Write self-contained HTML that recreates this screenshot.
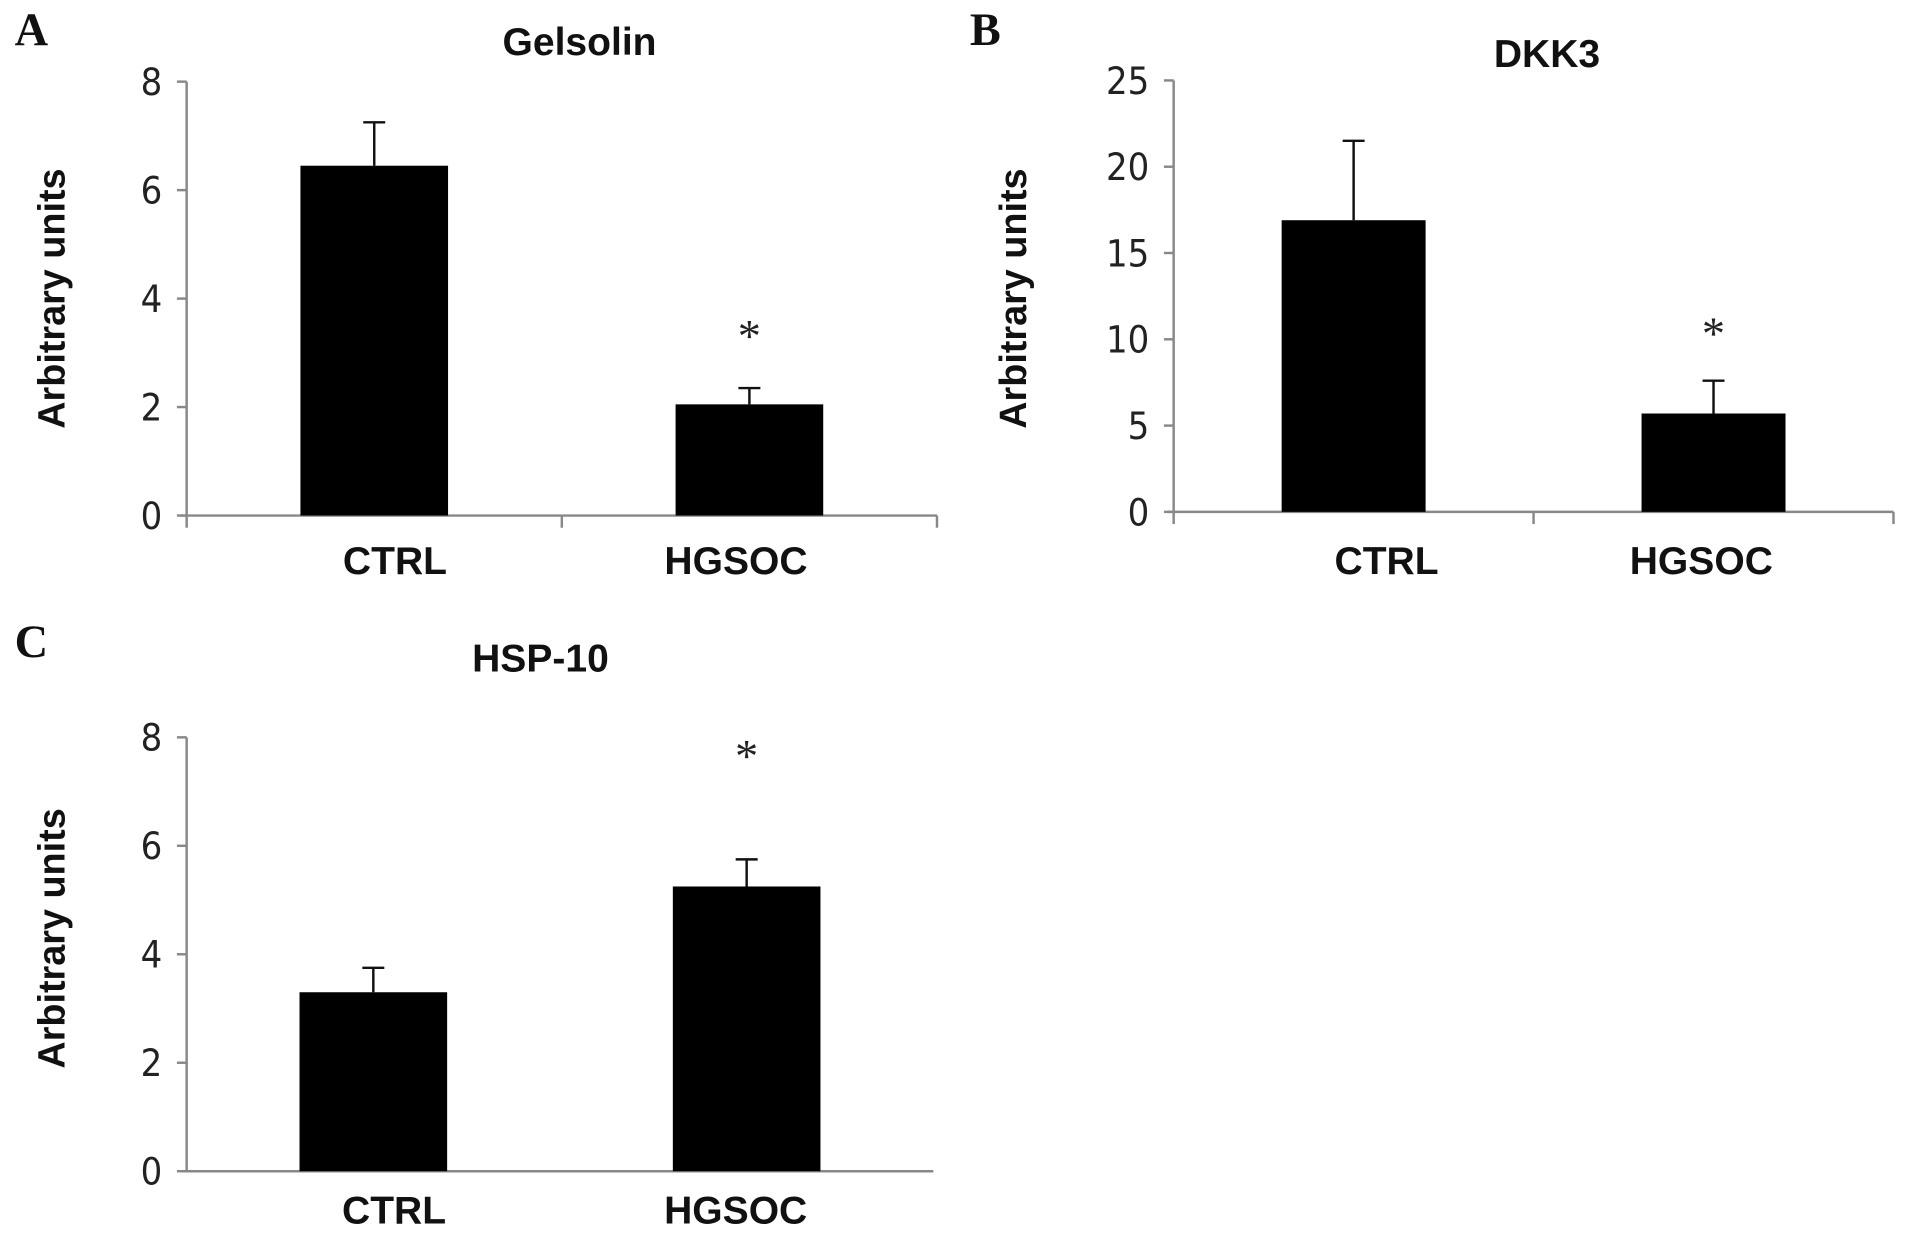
<!DOCTYPE html>
<html><head><meta charset="utf-8"><style>
html,body{margin:0;padding:0;background:#fff;}
svg{display:block;}
.tick{font-family:"DejaVu Sans Condensed","Liberation Sans",sans-serif;font-size:31px;fill:#222;}
.cat{font-family:"Liberation Sans",sans-serif;font-weight:bold;font-size:32px;fill:#111;}
.title{font-family:"Liberation Sans",sans-serif;font-weight:bold;font-size:32px;fill:#111;}
.panel{font-family:"Liberation Serif",serif;font-weight:bold;font-size:38px;fill:#111;}
.ylab{font-family:"Liberation Sans",sans-serif;font-weight:bold;font-size:31px;fill:#111;}
.star{font-family:"Liberation Serif",serif;font-size:38px;fill:#222;}
</style></head><body>
<svg id="fig" width="1913" height="1248" viewBox="0 0 1568 1024" preserveAspectRatio="none" xmlns="http://www.w3.org/2000/svg"></svg>
<script>
const categories = ["CTRL", "HGSOC"];
const gelsolinValues = [6.45, 2.05];
const gelsolinErrors = [0.8, 0.3];
const dkk3Values = [16.9, 5.7];
const dkk3Errors = [4.6, 1.9];
const hsp10Values = [3.3, 5.25];
const hsp10Errors = [0.45, 0.5];
const gelsolinTicks = [0, 2, 4, 6, 8];
const dkk3Ticks = [0, 5, 10, 15, 20, 25];
const hsp10Ticks = [0, 2, 4, 6, 8];
const gelsolinSig = [false, true];
const dkk3Sig = [false, true];
const hsp10Sig = [false, true];

const NS = "http://www.w3.org/2000/svg";
const svg = document.getElementById("fig");
function mk(tag, attrs, parent) {
  const e = document.createElementNS(NS, tag);
  for (const k in attrs) e.setAttribute(k, attrs[k]);
  (parent || svg).appendChild(e);
  return e;
}
function panel(cfg) {
  const g = mk("g", {});
  
  
  const max = cfg.ticks[cfg.ticks.length - 1];
  const y = v => cfg.y0 - (v / max) * (cfg.y0 - cfg.yTop);
  const L = mk("text", {x: cfg.letterX, y: cfg.letterY, class: "panel"}, g);
  L.textContent = cfg.letter;
  
  
  const T = mk("text", {x: cfg.titleX, y: cfg.titleY, class: "title", "text-anchor": "middle"}, g);
  T.textContent = cfg.title;
  
  
  const ya = mk("line", {x1: cfg.ax, y1: cfg.yTop, x2: cfg.ax, y2: cfg.y0, stroke: "#888", "stroke-width": 2}, g);
  
  
  cfg.ticks.forEach(t => {
    const tl = mk("line", {x1: cfg.ax - 8, y1: y(t), x2: cfg.ax, y2: y(t), stroke: "#888", "stroke-width": 2}, g);
    
    
    const tx = mk("text", {x: cfg.ax - 20, y: y(t) + 11, class: "tick", "text-anchor": "end"}, g);
    tx.textContent = t;
    
    
  });
  const yl = mk("text", {x: 0, y: 0, class: "ylab", "text-anchor": "middle", transform: `translate(${cfg.ylabX},${cfg.ylabY}) rotate(-90)`}, g);
  yl.textContent = "Arbitrary units";
  
  
  const xa = mk("line", {x1: cfg.ax - 5, y1: cfg.y0, x2: cfg.xEnd, y2: cfg.y0, stroke: "#888", "stroke-width": 2}, g);
  
  
  if (cfg.xTicks) {
    const n = categories.length;
    for (let i = 0; i <= n; i++) {
      const xx = cfg.ax + (cfg.xEnd - cfg.ax) * i / n;
      const xt = mk("line", {x1: xx, y1: cfg.y0, x2: xx, y2: cfg.y0 + 10, stroke: "#888", "stroke-width": 2}, g);
      
      
    }
  }
  const slot = (cfg.xEnd - cfg.ax) / categories.length;
  categories.forEach((c, i) => {
    const cx = cfg.ax + slot * (i + 0.5);
    const v = cfg.values[i], e = cfg.errors[i];
    const r = mk("rect", {x: cx - cfg.bw / 2, y: y(v), width: cfg.bw, height: cfg.y0 - y(v), fill: "#000"}, g);
    
    
    const el = mk("path", {d: `M${cx},${y(v)}V${y(v + e)}M${cx - 9},${y(v + e)}H${cx + 9}`, stroke: "#111", "stroke-width": 2, fill: "none"}, g);
    
    
    const lb = mk("text", {x: cx + cfg.labShift[i], y: cfg.catY, class: "cat", "text-anchor": "middle"}, g);
    lb.textContent = c;
    
    
    if (cfg.sig[i]) {
      const s = mk("text", {x: cx, y: y(v + e) + cfg.starOff, class: "star", "text-anchor": "middle"}, g);
      s.textContent = "*";
      
      
    }
  });
}
panel({id: "gelsolin", letter: "A", letterX: 12, letterY: 37, title: "Gelsolin", titleX: 475, titleY: 45,
  ax: 153, xEnd: 768, y0: 423, yTop: 67, ticks: gelsolinTicks, values: gelsolinValues, errors: gelsolinErrors,
  sig: gelsolinSig, bw: 121, catY: 471, ylabX: 53, ylabY: 245, xTicks: true, starOff: -30, labShift: [17, -11]});
panel({id: "dkk3", letter: "B", letterX: 795, letterY: 37, title: "DKK3", titleX: 1268, titleY: 55,
  ax: 962, xEnd: 1552, y0: 420, yTop: 66, ticks: dkk3Ticks, values: dkk3Values, errors: dkk3Errors,
  sig: dkk3Sig, bw: 118, catY: 471, ylabX: 841, ylabY: 245, xTicks: true, starOff: -26, labShift: [27, -10]});
panel({id: "hsp10", letter: "C", letterX: 12, letterY: 539, title: "HSP-10", titleX: 443, titleY: 551,
  ax: 153, xEnd: 765, y0: 961, yTop: 605, ticks: hsp10Ticks, values: hsp10Values, errors: hsp10Errors,
  sig: hsp10Sig, bw: 121, catY: 1004, ylabX: 53, ylabY: 770, xTicks: false, starOff: -72, labShift: [17, -9]});
</script>
</body></html>
